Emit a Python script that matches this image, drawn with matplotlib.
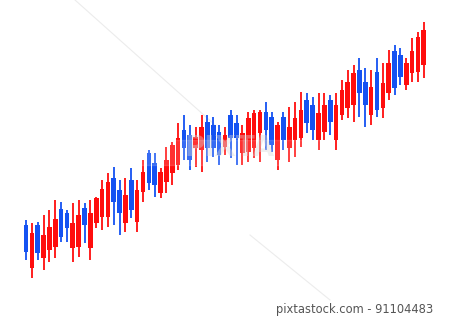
import numpy as np
import matplotlib.pyplot as plt

# candle data (price units, higher = up); red = rising, blue = falling
colors = list("BRBRRRBBRRBRRRRBBRBRRBBRRRRBBRRBBBRBBRRRRBBRBRRRBBRRBRRRRBBRBRRBBRRRR")
body_top = [225, 233, 225, 235, 227, 219, 209, 213, 223, 215, 208, 213, 198, 189, 182, 178,
            190, 195, 180, 190, 172, 153, 163, 172, 160, 145, 138, 130, 135, 137, 127, 122,
            125, 132, 135, 115, 123, 133, 118, 113, 112, 112, 117, 125, 117, 127, 118, 110,
            100, 105, 113, 105, 100, 105, 90, 82, 73, 70, 82, 87, 72, 83, 63, 51, 55, 63,
            51, 37, 30]
body_bot = [252, 268, 253, 258, 250, 247, 237, 228, 248, 247, 225, 248, 223, 217, 217, 202,
            213, 223, 210, 222, 192, 183, 185, 193, 182, 173, 165, 148, 160, 148, 150, 148,
            148, 155, 147, 138, 138, 153, 152, 148, 133, 130, 145, 160, 140, 148, 140, 138,
            123, 130, 140, 132, 122, 140, 115, 108, 105, 93, 105, 115, 110, 108, 93, 88, 77, 85,
            73, 72, 65]
wick_top = [220, 223, 222, 215, 210, 200, 202, 210, 203, 200, 203, 200, 197, 180, 173, 167,
            180, 178, 168, 180, 160, 150, 153, 168, 147, 142, 123, 115, 125, 127, 115, 115,
            117, 125, 127, 110, 115, 125, 112, 110, 110, 102, 112, 122, 112, 107, 102, 92,
            93, 97, 93, 93, 95, 93, 80, 70, 65, 58, 68, 70, 58, 63, 50, 45, 48, 58,
            38, 32, 22]
wick_bot = [260, 278, 260, 270, 262, 258, 242, 242, 262, 257, 243, 260, 228, 230, 227, 225,
            235, 232, 218, 232, 202, 190, 197, 198, 193, 185, 170, 160, 170, 167, 172, 162,
            157, 165, 155, 158, 165, 165, 162, 158, 162, 150, 152, 170, 150, 162, 157, 147,
            133, 140, 150, 140, 135, 150, 120, 118, 122, 117, 127, 125, 117, 118, 100, 95, 85, 90,
            82, 82, 78]

H = 319
high = H - np.array(wick_top)
low = H - np.array(wick_bot)
top = H - np.array(body_top)
bot = H - np.array(body_bot)
idx = np.arange(len(colors))

RED = '#ff0d0d'
BLUE = '#1452f2'

fig = plt.figure(figsize=(4.5, 3.19), dpi=100)
ax = fig.add_axes([0, 0, 1, 1])
ax.set_xlim(-26 / 5.85, (450 - 26) / 5.85)
ax.set_ylim(0, H)
ax.axis('off')

# faint watermark lines
ax.plot([(75 - 26) / 5.85, (215 - 26) / 5.85], [H, H - 125], color='#ececec', lw=0.8, zorder=0)
ax.plot([(250 - 26) / 5.85, (330 - 26) / 5.85], [H - 235, H - 300], color='#ececec', lw=0.8, zorder=0)

for i in idx:
    c = RED if colors[i] == 'R' else BLUE
    ax.vlines(i, low[i], high[i], color=c, lw=1.3, zorder=2)
    ax.bar(i, top[i] - bot[i], bottom=bot[i], width=0.8, color=c, zorder=3)

# light watermark overlay band
ax.axhspan(H - 165, H - 140, xmin=125 / 450, xmax=330 / 450, color='white', alpha=0.15, zorder=4)
ax.text(230 / 450, 1 - 148 / H, 'PIXTA', transform=ax.transAxes, fontsize=20,
        color='#d8d8d8', alpha=0.4, ha='center', va='center', fontweight='bold', zorder=5)

ax.text(433 / 450, 1 - 309 / H, 'pixtastock.com - 91104483', transform=ax.transAxes,
        fontsize=8.3, color='#555555', ha='right', va='center')

fig.savefig('out.png', dpi=100)
